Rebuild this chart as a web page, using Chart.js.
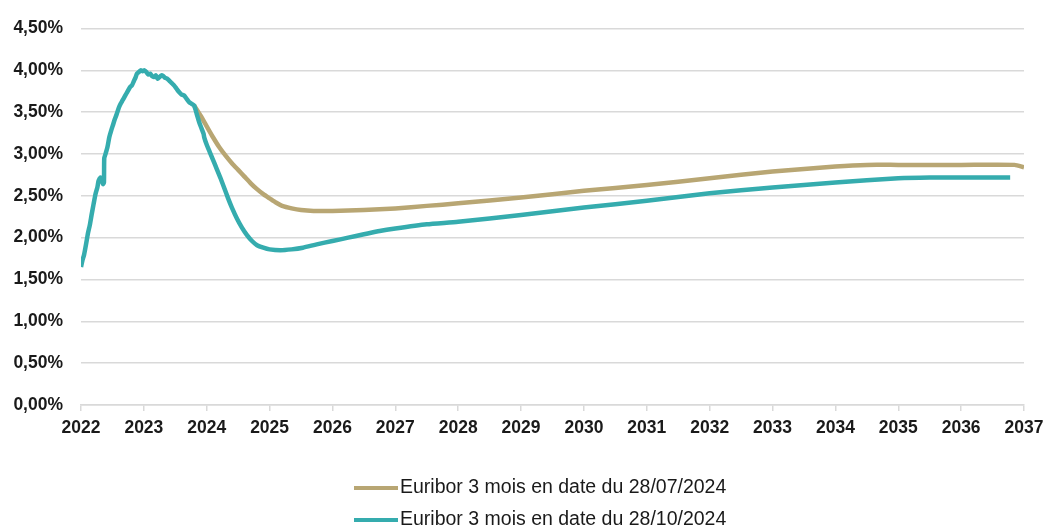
<!DOCTYPE html>
<html lang="fr">
<head>
<meta charset="utf-8">
<title>Euribor 3 mois</title>
<script src="https://cdn.jsdelivr.net/npm/chart.js@4"></script>
<style>
  html, body { margin: 0; padding: 0; background: #fff; }
  #zone { width: 1047px; height: 528px; position: relative; }
</style>
</head>
<body>
<div id="zone"><canvas id="grafico"></canvas></div>
<script>
// historique commun (années décimales, taux en %)
const anneesHisto = [
  2022.00, 2022.02, 2022.05, 2022.08, 2022.11, 2022.14, 2022.17, 2022.20, 2022.23, 2022.26,
  2022.28, 2022.31, 2022.33, 2022.35, 2022.365, 2022.37, 2022.39, 2022.42, 2022.45, 2022.48,
  2022.51, 2022.54, 2022.57, 2022.60, 2022.63, 2022.66, 2022.69, 2022.72, 2022.75, 2022.78,
  2022.81, 2022.84, 2022.87, 2022.89, 2022.92, 2022.95, 2022.98, 2023.01, 2023.04, 2023.07,
  2023.10, 2023.13, 2023.16, 2023.19, 2023.22, 2023.25, 2023.28, 2023.31, 2023.34, 2023.37,
  2023.40, 2023.44, 2023.48, 2023.52, 2023.56, 2023.60, 2023.64, 2023.68, 2023.72, 2023.76,
  2023.80
];
const tauxHisto = [
  1.65, 1.72, 1.80, 1.92, 2.05, 2.15, 2.28, 2.40, 2.52, 2.60,
  2.68, 2.72, 2.70, 2.64, 2.66, 2.95, 3.00, 3.08, 3.20, 3.28,
  3.35, 3.42, 3.48, 3.55, 3.60, 3.64, 3.68, 3.72, 3.76, 3.80,
  3.82, 3.87, 3.92, 3.96, 3.98, 4.00, 3.99, 4.00, 3.98, 3.95,
  3.96, 3.93, 3.92, 3.94, 3.90, 3.92, 3.94, 3.93, 3.91, 3.90,
  3.88, 3.85, 3.82, 3.78, 3.74, 3.71, 3.70, 3.66, 3.62, 3.60,
  3.58
];

// courbe à terme au 28/07/2024
const anneesJuillet = [
  2023.80, 2023.90, 2024.00, 2024.10, 2024.20, 2024.30, 2024.40, 2024.50, 2024.60, 2024.70,
  2024.80, 2024.90, 2025.00, 2025.10, 2025.20, 2025.35, 2025.50, 2025.70, 2026.00, 2026.50,
  2027.00, 2027.50, 2028.00, 2029.00, 2030.00, 2031.00, 2032.00, 2033.00, 2034.00, 2034.50,
  2035.00, 2036.00, 2036.85, 2037.00
];
const tauxJuillet = [
  3.58, 3.46, 3.33, 3.20, 3.08, 2.98, 2.89, 2.81, 2.73, 2.65,
  2.58, 2.52, 2.47, 2.42, 2.38, 2.35, 2.33, 2.32, 2.32, 2.33,
  2.35, 2.38, 2.41, 2.48, 2.56, 2.63, 2.71, 2.79, 2.85, 2.87,
  2.87, 2.87, 2.87, 2.84
];

// courbe à terme au 28/10/2024
const anneesOctobre = [
  2023.84, 2023.88, 2023.92, 2023.95, 2023.96, 2024.00, 2024.05, 2024.10, 2024.16, 2024.22,
  2024.28, 2024.34, 2024.40, 2024.48, 2024.56, 2024.64, 2024.72, 2024.80, 2024.90, 2025.00,
  2025.17, 2025.35, 2025.53, 2025.75, 2026.00, 2026.25, 2026.50, 2026.75, 2027.00, 2027.50,
  2028.00, 2029.00, 2030.00, 2031.00, 2032.00, 2033.00, 2034.00, 2035.00, 2035.50, 2036.00,
  2036.78
];
const tauxOctobre = [
  3.48, 3.38, 3.30, 3.24, 3.20, 3.11, 3.02, 2.93, 2.82, 2.71,
  2.59, 2.47, 2.36, 2.23, 2.12, 2.03, 1.96, 1.91, 1.88, 1.86,
  1.85, 1.86, 1.88, 1.92, 1.96, 2.00, 2.04, 2.08, 2.11, 2.16,
  2.19, 2.27, 2.36, 2.44, 2.53, 2.60, 2.66, 2.71, 2.72, 2.72,
  2.72
];

const libelles = ["Euribor 3 mois en date du 28/07/2024", "Euribor 3 mois en date du 28/10/2024"];
const couleurs = ["#B8A673", "#35ACAE"];
const ticksX = [2022, 2037];
const ticksY = [0, 4.5, 0.5];

const POLICE = '"Liberation Sans", Arial, sans-serif';

function points(xs, ys) {
  return xs.map((x, i) => ({ x: x, y: ys[i] }));
}

const dataJuillet = points(anneesJuillet, tauxJuillet);
const dataOctobre = points(anneesHisto, tauxHisto).concat(points(anneesOctobre, tauxOctobre));

// légende sur deux lignes en bas, comme l'original
const legendeBas = {
  id: "legendeBas",
  afterDraw(chart) {
    const ctx = chart.ctx;
    ctx.save();
    ctx.font = "19.5px " + POLICE;
    ctx.textBaseline = "middle";
    chart.data.datasets.forEach((ds, i) => {
      const y = 488 + i * 32;
      ctx.strokeStyle = ds.borderColor;
      ctx.lineWidth = 4;
      ctx.beginPath();
      ctx.moveTo(354, y);
      ctx.lineTo(398, y);
      ctx.stroke();
      ctx.fillStyle = "#1a1a1a";
      ctx.fillText(ds.label, 400, y);
    });
    ctx.restore();
  }
};

const ctx = document.getElementById("grafico").getContext("2d");
new Chart(ctx, {
  type: "line",
  data: {
    datasets: [
      {
        label: libelles[0],
        data: dataJuillet,
        borderColor: couleurs[0],
        backgroundColor: couleurs[0],
        borderWidth: 4.5,
        pointRadius: 0,
        tension: 0.2,
        order: 1
      },
      {
        label: libelles[1],
        data: dataOctobre,
        borderColor: couleurs[1],
        backgroundColor: couleurs[1],
        borderWidth: 4.5,
        pointRadius: 0,
        tension: 0.2,
        order: 0
      }
    ]
  },
  options: {
    responsive: true,
    maintainAspectRatio: false,
    animation: false,
    layout: { padding: { top: 26, right: 23, bottom: 0, left: 0 } },
    plugins: {
      legend: { display: false },
      tooltip: { enabled: false }
    },
    scales: {
      x: {
        type: "linear",
        min: ticksX[0],
        max: ticksX[1],
        afterFit(scale) {
          scale.height = 123;
          scale.paddingRight = 0;
        },
        ticks: {
          stepSize: 1,
          padding: 7,
          maxRotation: 0,
          color: "#1a1a1a",
          font: { family: POLICE, size: 17.5, weight: "bold" },
          callback: v => String(v)
        },
        grid: { drawOnChartArea: false, drawTicks: true, tickLength: 6, color: "#d9d9d9", lineWidth: 1.5 },
        border: { display: true, color: "#d9d9d9", width: 1.5 }
      },
      y: {
        min: ticksY[0],
        max: ticksY[1],
        afterFit(scale) { scale.width = 81; },
        ticks: {
          stepSize: ticksY[2],
          padding: 18,
          color: "#1a1a1a",
          font: { family: POLICE, size: 17.5, weight: "bold" },
          callback: v => v.toFixed(2).replace(".", ",") + "%"
        },
        grid: { drawTicks: false, color: "#d9d9d9", lineWidth: 1.5 },
        border: { display: false }
      }
    }
  },
  plugins: [legendeBas]
});
</script>
</body>
</html>
